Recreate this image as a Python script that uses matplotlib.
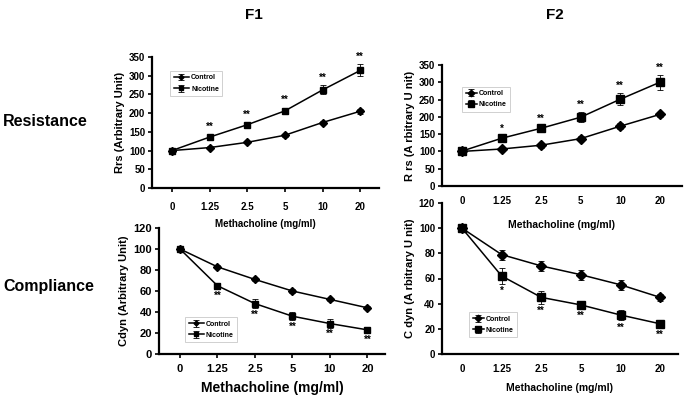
import numpy as np
import matplotlib
matplotlib.use("Agg")
import matplotlib.pyplot as plt

doses = ["0", "1.25", "2.5", "5", "10", "20"]

# F1 resistance
f1_rrs_ctrl = [100, 108, 122, 141, 175, 205]
f1_rrs_ctrl_err = [2, 3, 3, 4, 5, 6]
f1_rrs_nic = [100, 136, 169, 206, 262, 314]
f1_rrs_nic_err = [2, 5, 6, 9, 12, 16]
f1_rrs_stars = ["", "**", "**", "**", "**", "**"]

# F1 compliance
f1_cdyn_ctrl = [100, 83, 71, 60, 52, 44]
f1_cdyn_ctrl_err = [1, 1.5, 1.5, 1.5, 1.5, 1.5]
f1_cdyn_nic = [100, 65, 48, 36, 29, 23]
f1_cdyn_nic_err = [1, 3, 4, 4, 4, 3]
f1_cdyn_stars = ["", "**", "**", "**", "**", "**"]

# F2 resistance
f2_rrs_ctrl = [100, 107, 118, 137, 173, 207]
f2_rrs_ctrl_err = [6, 7, 7, 8, 8, 8]
f2_rrs_nic = [101, 138, 167, 199, 251, 300]
f2_rrs_nic_err = [7, 8, 8, 15, 17, 22]
f2_rrs_stars = ["", "*", "**", "**", "**", "**"]

# F2 compliance
f2_cdyn_ctrl = [100, 79, 70, 63, 55, 45]
f2_cdyn_ctrl_err = [1, 4, 4, 4, 4, 3]
f2_cdyn_nic = [100, 62, 45, 39, 31, 24]
f2_cdyn_nic_err = [1, 6, 5, 3, 4, 3]
f2_cdyn_stars = ["", "*", "**", "**", "**", "**"]

W, H = 685, 407
fig = plt.figure(figsize=(W / 100, H / 100), dpi=100)

ARIAL = ["Liberation Sans", "DejaVu Sans"]
NARROW = ["Liberation Sans Narrow", "Liberation Sans", "DejaVu Sans"]


def px_axes(x0, y0, x1, y1):
    # pixel box (top-left origin) -> figure axes
    ax = fig.add_axes([x0 / W, 1 - y1 / H, (x1 - x0) / W, (y1 - y0) / H])
    ax.patch.set_alpha(0)
    return ax


def panel(ax, ctrl, cerr, nic, nerr, stars, ylim, yticks, xlim, ylabel,
          xlabel, fam, ms, lab_size, xl_size, star_above, star_off, leg_box,
          xticks_on=True, xpad=7, hlen=2.2, xlpad=5):
    x = np.arange(len(doses))
    ax.errorbar(x, ctrl, yerr=cerr, color="black", lw=1.1, marker="D",
                ms=ms * 0.8, capsize=2, elinewidth=0.6, capthick=0.6,
                label="Control")
    ax.errorbar(x, nic, yerr=nerr, color="black", lw=1.1, marker="s",
                ms=ms, capsize=2, elinewidth=0.6, capthick=0.6,
                label="Nicotine")
    for xi, v, e, s in zip(x, nic, nerr, stars):
        if not s:
            continue
        if star_above:
            ax.text(xi, v + e + star_off, s, ha="center", va="bottom",
                    fontsize=7, family=fam, fontweight="bold")
        else:
            ax.text(xi, v - e - star_off, s, ha="center", va="top",
                    fontsize=7, family=fam, fontweight="bold")
    ax.set_xlim(*xlim)
    ax.set_ylim(*ylim)
    ax.set_yticks(yticks)
    ax.set_xticks(x)
    ax.set_xticklabels(doses, family=fam, fontweight="bold", fontsize=lab_size)
    ax.set_yticklabels([str(t) for t in yticks], family=fam,
                       fontweight="bold", fontsize=lab_size)
    for sp in ["top", "right"]:
        ax.spines[sp].set_visible(False)
    for sp in ["left", "bottom"]:
        ax.spines[sp].set_linewidth(1.6)
    ax.tick_params(axis="y", length=3, width=1.2, pad=2)
    ax.tick_params(axis="x", length=3 if xticks_on else 0, width=1.2,
                   pad=xpad)
    ax.set_xlabel(xlabel, family=fam, fontweight="bold", fontsize=xl_size,
                  labelpad=xlpad)
    ax.set_ylabel(ylabel, family=fam, fontweight="bold", fontsize=8,
                  labelpad=3)
    leg = ax.legend(loc="upper left", bbox_to_anchor=leg_box,
                    prop={"family": fam, "weight": "bold", "size": 5},
                    frameon=True, fancybox=False, edgecolor="#bbbbbb",
                    handlelength=hlen, handletextpad=0.3, borderpad=0.5,
                    labelspacing=0.6, markerscale=0.7)
    leg.get_frame().set_linewidth(0.6)
    return ax


# F1 resistance
ax1 = px_axes(152, 57, 379, 188)
panel(ax1, f1_rrs_ctrl, f1_rrs_ctrl_err, f1_rrs_nic, f1_rrs_nic_err,
      f1_rrs_stars, (0, 350), range(0, 351, 50), (-0.53, 5.5),
      "Rrs (Arbitrary Unit)", "Methacholine (mg/ml)", ARIAL, 4.5, 7, 7,
      True, 8, (0.065, 0.92))

# F1 compliance
ax2 = px_axes(159, 228, 385, 354)
panel(ax2, f1_cdyn_ctrl, f1_cdyn_ctrl_err, f1_cdyn_nic, f1_cdyn_nic_err,
      f1_cdyn_stars, (0, 120), range(0, 121, 20), (-0.56, 5.47),
      "Cdyn (Arbitrary Unit)", "Methacholine (mg/ml)", ARIAL, 4.5, 8, 10,
      False, 1.5, (0.1, 0.32), xpad=4)

# F2 resistance
ax3 = px_axes(442, 65, 682, 186)
panel(ax3, f2_rrs_ctrl, f2_rrs_ctrl_err, f2_rrs_nic, f2_rrs_nic_err,
      f2_rrs_stars, (0, 350), range(0, 351, 50), (-0.505, 5.56),
      "R rs (A rbitrary U nit)", "Methacholine (mg/ml)", NARROW, 6, 7, 7.5,
      True, 6, (0.07, 0.85), xticks_on=False, hlen=1.6, xlpad=10)

# F2 compliance
ax4 = px_axes(442, 203, 678, 354)
panel(ax4, f2_cdyn_ctrl, f2_cdyn_ctrl_err, f2_cdyn_nic, f2_cdyn_nic_err,
      f2_cdyn_stars, (0, 120), range(0, 121, 20), (-0.505, 5.45),
      "C dyn (A rbitrary U nit)", "Methacholine (mg/ml)", NARROW, 6, 7, 7.5,
      False, 2, (0.1, 0.30), xticks_on=False, hlen=1.6, xlpad=7)

# column / row headings
fig.text(254 / W, 1 - 15 / H, "F1", ha="center", va="center",
         family=ARIAL, fontweight="bold", fontsize=11)
fig.text(555 / W, 1 - 15 / H, "F2", ha="center", va="center",
         family=ARIAL, fontweight="bold", fontsize=11)
fig.text(3 / W, 1 - 121 / H, "Resistance", ha="left", va="center",
         family=ARIAL, fontweight="bold", fontsize=11.5)
fig.text(3 / W, 1 - 287 / H, "Compliance", ha="left", va="center",
         family=ARIAL, fontweight="bold", fontsize=11.5)

fig.savefig("out.png", dpi=100)
